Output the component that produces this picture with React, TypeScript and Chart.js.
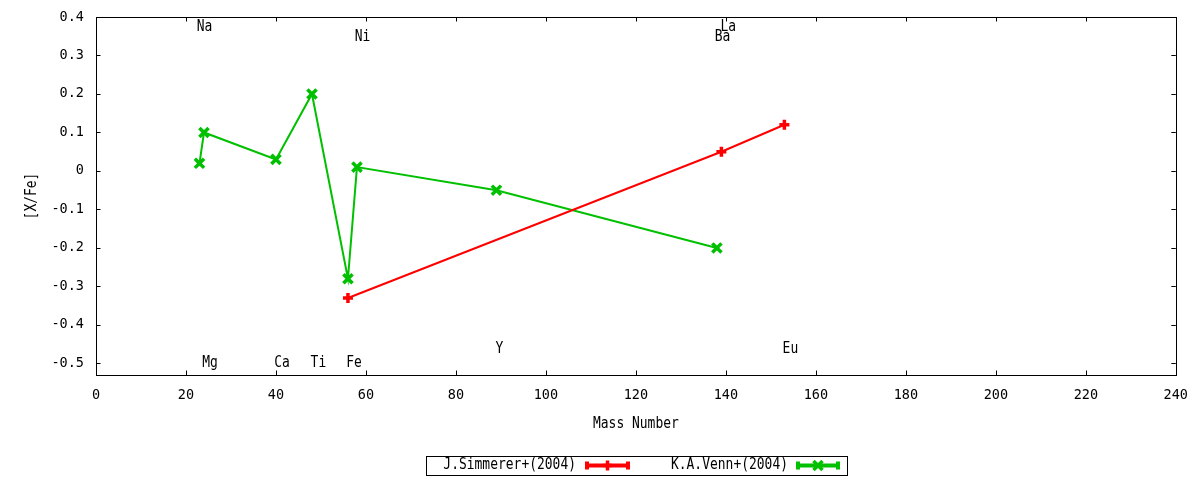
import React, { useEffect, useRef } from "react";
import { Chart, registerables } from "chart.js";

Chart.register(...registerables);

const simmMass = [56, 139, 153];
const simmVal = [-0.33, 0.05, 0.12];
const vennMass = [23, 24, 40, 48, 56, 58, 89, 138];
const vennVal = [0.02, 0.1, 0.03, 0.2, -0.28, 0.01, -0.05, -0.2];

const seriesNames = ["J.Simmerer+(2004)", "K.A.Venn+(2004)"];
const seriesColors = ["#ff0000", "#00c000"];

const xTicks = [0, 20, 40, 60, 80, 100, 120, 140, 160, 180, 200, 220, 240];
const yTicks = [-0.5, -0.4, -0.3, -0.2, -0.1, 0, 0.1, 0.2, 0.3, 0.4];

const elemNames = ["Na", "Mg", "Ca", "Ti", "Fe", "Ni", "Y", "Ba", "La", "Eu"];
const elemX = [22.4, 23.6, 39.6, 47.7, 55.6, 57.5, 88.8, 137.5, 138.8, 152.6];
const elemY = [0.373, -0.499, -0.499, -0.499, -0.499, 0.347, -0.462, 0.347, 0.373, -0.462];

const FAMILY = '"DejaVu Sans Mono", monospace';
const FSIZE = 13.5;
const FONT = `${FSIZE}px ${FAMILY}`;

// draw text slightly stretched vertically to match the reference glyph proportions
function tallText(ctx: any, s: string, x: number, y: number) {
  ctx.save();
  ctx.translate(x, y);
  ctx.scale(0.96, 1.12);
  ctx.fillText(s, 0, 0);
  ctx.restore();
}

const overlay = {
  id: "overlay",
  afterDraw(chart: any) {
    const ctx = chart.ctx;
    const { left, right, top, bottom } = chart.chartArea;
    const xs = chart.scales.x;
    const ys = chart.scales.y;
    ctx.save();
    // border
    ctx.strokeStyle = "#000";
    ctx.lineWidth = 1;
    ctx.strokeRect(Math.round(left) + 0.5, Math.round(top) + 0.5, Math.round(right - left), Math.round(bottom - top));
    // inward ticks
    const tl = 4.5;
    ctx.beginPath();
    xTicks.forEach((v) => {
      const px = Math.round(xs.getPixelForValue(v)) + 0.5;
      ctx.moveTo(px, bottom);
      ctx.lineTo(px, bottom - tl);
      ctx.moveTo(px, top);
      ctx.lineTo(px, top + tl);
    });
    yTicks.forEach((v) => {
      const py = Math.round(ys.getPixelForValue(v)) + 0.5;
      ctx.moveTo(left, py);
      ctx.lineTo(left + tl, py);
      ctx.moveTo(right, py);
      ctx.lineTo(right - tl, py);
    });
    ctx.stroke();

    // element labels
    ctx.fillStyle = "#000";
    ctx.font = FONT;
    ctx.textAlign = "left";
    ctx.textBaseline = "middle";
    elemNames.forEach((n, i) => {
      tallText(ctx, n, xs.getPixelForValue(elemX[i]), ys.getPixelForValue(elemY[i]));
    });

    // axis titles
    ctx.textAlign = "center";
    tallText(ctx, "Mass Number", (left + right) / 2, 424.5);
    ctx.save();
    ctx.translate(32, (top + bottom) / 2);
    ctx.rotate(-Math.PI / 2);
    tallText(ctx, "[X/Fe]", 0, 0);
    ctx.restore();

    // legend
    ctx.lineWidth = 1;
    ctx.strokeStyle = "#000";
    ctx.strokeRect(426.5, 456.5, 421, 19);
    const textRight = [576, 788];
    const sampleL = [586, 797];
    const sampleR = [629, 839];
    const ly = 465.5;
    chart.data.datasets.forEach((ds: any, i: number) => {
      ctx.fillStyle = "#000";
      ctx.textAlign = "right";
      ctx.textBaseline = "middle";
      tallText(ctx, ds.label, textRight[i], ly);
      ctx.strokeStyle = ds.borderColor;
      ctx.lineWidth = 4;
      ctx.beginPath();
      ctx.moveTo(sampleL[i], ly);
      ctx.lineTo(sampleR[i], ly);
      ctx.moveTo(sampleL[i] + 1, ly - 4);
      ctx.lineTo(sampleL[i] + 1, ly + 4);
      ctx.moveTo(sampleR[i] - 1, ly - 4);
      ctx.lineTo(sampleR[i] - 1, ly + 4);
      ctx.stroke();
      const cx = (sampleL[i] + sampleR[i]) / 2;
      ctx.lineWidth = 3.5;
      ctx.beginPath();
      if (i === 0) {
        ctx.moveTo(cx, ly - 5);
        ctx.lineTo(cx, ly + 5);
        ctx.moveTo(cx - 4.5, ly);
        ctx.lineTo(cx + 4.5, ly);
      } else {
        ctx.moveTo(cx - 4.5, ly - 4.5);
        ctx.lineTo(cx + 4.5, ly + 4.5);
        ctx.moveTo(cx - 4.5, ly + 4.5);
        ctx.lineTo(cx + 4.5, ly - 4.5);
      }
      ctx.stroke();
    });
    ctx.restore();
  },
};

export default function App() {
  const ref = useRef<HTMLCanvasElement | null>(null);
  useEffect(() => {
    if (!ref.current) return;
    const chart = new Chart(ref.current, {
      type: "line",
      data: {
        datasets: [
          {
            label: seriesNames[0],
            data: simmMass.map((m, i) => ({ x: m, y: simmVal[i] })),
            borderColor: seriesColors[0],
            backgroundColor: seriesColors[0],
            borderWidth: 2,
            pointStyle: "cross",
            pointRadius: 5,
            pointBorderWidth: 3.5,
            pointHoverRadius: 5,
            tension: 0,
          },
          {
            label: seriesNames[1],
            data: vennMass.map((m, i) => ({ x: m, y: vennVal[i] })),
            borderColor: seriesColors[1],
            backgroundColor: seriesColors[1],
            borderWidth: 2,
            pointStyle: "crossRot",
            pointRadius: 6.5,
            pointBorderWidth: 3.5,
            pointHoverRadius: 6.5,
            tension: 0,
          },
        ],
      },
      options: {
        responsive: false,
        animation: false,
        devicePixelRatio: 1,
        layout: { padding: { top: 17, right: 23, bottom: 0, left: 0 } },
        plugins: {
          legend: { display: false },
          tooltip: { enabled: false },
        },
        scales: {
          x: {
            type: "linear",
            min: 0,
            max: 240,
            grid: { display: false, drawTicks: false },
            border: { display: false },
            afterBuildTicks: (s: any) => {
              s.ticks = xTicks.map((v) => ({ value: v }));
            },
            afterFit: (s: any) => {
              s.height = 105;
            },
            ticks: {
              autoSkip: false,
              maxRotation: 0,
              padding: 12,
              color: "#000",
              font: { family: FAMILY, size: FSIZE },
              callback: (v: any) => String(v),
            },
          },
          y: {
            type: "linear",
            min: -0.53,
            max: 0.4,
            grid: { display: false, drawTicks: false },
            border: { display: false },
            afterBuildTicks: (s: any) => {
              s.ticks = yTicks.map((v) => ({ value: v }));
            },
            afterFit: (s: any) => {
              s.width = 96;
              s.paddingTop = 0;
              s.paddingBottom = 0;
            },
            ticks: {
              autoSkip: false,
              padding: 12,
              color: "#000",
              font: { family: FAMILY, size: FSIZE },
              callback: (v: any) => String(Number(Number(v).toFixed(1))),
            },
          },
        },
      },
      plugins: [overlay],
    });
    return () => chart.destroy();
  }, []);
  return (
    <div style={{ position: "absolute", left: 0, top: 0, width: 1200, height: 480, background: "#fff" }}>
      <canvas ref={ref} width={1200} height={480} style={{ width: 1200, height: 480, display: "block" }} />
    </div>
  );
}
